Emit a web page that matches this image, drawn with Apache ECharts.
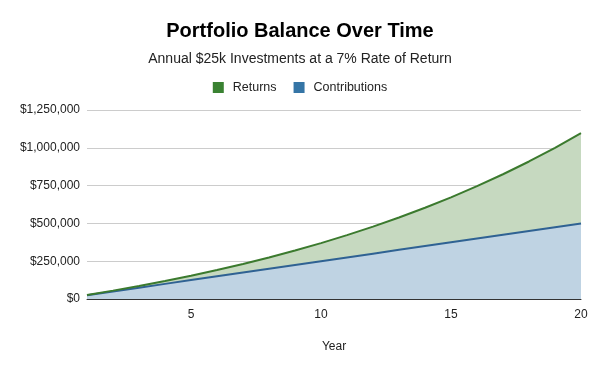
<!DOCTYPE html>
<html><head><meta charset="utf-8">
<script src="https://cdn.jsdelivr.net/npm/echarts@6/dist/echarts.min.js"></script>
<style>html,body{margin:0;padding:0;background:#fff}#c{width:600px;height:371px}</style>
</head><body><div id="c"></div>
<script>
const years = ['1','2','3','4','5','6','7','8','9','10','11','12','13','14','15','16','17','18','19','20'];
const contributions = [25000,50000,75000,100000,125000,150000,175000,200000,225000,250000,275000,300000,325000,350000,375000,400000,425000,450000,475000,500000];
const returns = [1750,5373,10999,18768,28832,41351,56495,74450,95411,119590,147211,178516,213762,253226,297201,346005,399976,459474,524887,596629];
const yTicks = [0,250000,500000,750000,1000000,1250000];

const font = 'Liberation Sans, Arial, sans-serif';
const chart = echarts.init(document.getElementById('c'), null, {renderer:'canvas'});
chart.setOption({
  animation:false,
  backgroundColor:'#fff',
  title:[
    {text:'Portfolio Balance Over Time', left:'center', top:16, textStyle:{fontFamily:font, fontSize:20, fontWeight:'bold', color:'#000'}},
    {text:'Annual $25k Investments at a 7% Rate of Return', left:'center', top:47, textStyle:{fontFamily:font, fontSize:14, fontWeight:'normal', color:'#222'}}
  ],
  legend:{
    data:['Returns','Contributions'], top:76, left:'center',
    icon:'rect', itemWidth:11, itemHeight:11, itemGap:17,
    textStyle:{fontFamily:font, fontSize:12.5, color:'#222', padding:[0,0,0,4]}
  },
  grid:{left:87, right:19, top:110, bottom:72},
  xAxis:{
    type:'category', data:years, boundaryGap:false,
    name:'Year', nameLocation:'middle', nameGap:42,
    nameTextStyle:{fontFamily:font, fontSize:12, color:'#222'},
    axisLine:{lineStyle:{color:'#333'}},
    axisTick:{show:false},
    axisLabel:{fontFamily:font, fontSize:12, color:'#222', margin:10,
      interval:function(i){ return (i+1)%5===0; }},
    splitLine:{show:false}
  },
  yAxis:{
    type:'value', min:yTicks[0], max:yTicks[yTicks.length-1], interval:250000,
    axisLine:{show:false}, axisTick:{show:false},
    axisLabel:{fontFamily:font, fontSize:12, color:'#222', margin:7,
      formatter:function(v){ return '$' + v.toLocaleString('en-US'); }},
    splitLine:{lineStyle:{color:'#ccc'}}
  },
  series:[
    {name:'Contributions', type:'line', stack:'t', data:contributions, symbol:'none',
     color:'#3575a6', lineStyle:{color:'#2f6293', width:2}, areaStyle:{color:'#bfd3e3', opacity:1}},
    {name:'Returns', type:'line', stack:'t', data:returns, symbol:'none',
     color:'#3a8232', lineStyle:{color:'#3b7a2e', width:2}, areaStyle:{color:'#c6d9c0', opacity:1}}
  ]
});
</script></body></html>
